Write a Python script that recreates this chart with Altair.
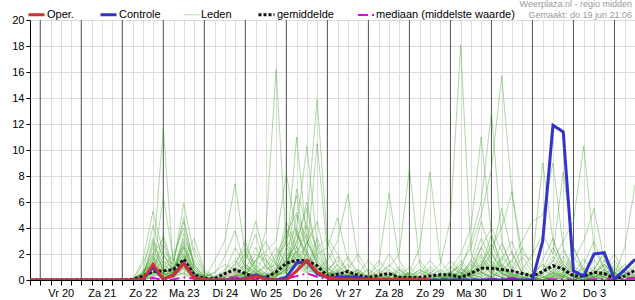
import altair as alt
import pandas as pd

# ---------------- data ----------------
# 6-hourly steps, step 0 = do 19 jun 18:00
stappen = list(range(60))
dagen = ["Vr 20", "Za 21", "Zo 22", "Ma 23", "Di 24", "Wo 25", "Do 26",
         "Vr 27", "Za 28", "Zo 29", "Ma 30", "Di 1", "Wo 2", "Do 3"]
dag_midden = [3, 7, 11, 15, 19, 23, 27, 31, 35, 39, 43, 47, 51, 55]
dag_grenzen = [1, 5, 9, 13, 17, 21, 25, 29, 33, 37, 41, 45, 49, 53, 57]
y_ticks = [0, 2, 4, 6, 8, 10, 12, 14, 16, 18, 20]
kop = ["Weerplaza.nl - regio midden", "Gemaakt: do 19 jun 21:06"]

oper = [0, 0, 0, 0, 0, 0, 0, 0, 0, 0,
        0, 0.05, 1.2, 0.05, 0.4, 1.25, 0.15, 0.05, 0, 0,
        0, 0.05, 0.3, 0.05, 0, 0, 0.7, 1.5, 0.6, 0.2,
        0.1, 0.05, 0.05, 0.05, 0.05, 0.05, 0.05, 0.05, 0.05, 0.05]

controle = [0, 0, 0, 0, 0, 0, 0, 0, 0, 0,
            0, 0.05, 1.0, 0.05, 0.4, 1.3, 0.2, 0.05, 0, 0,
            0, 0.1, 0.4, 0.1, 0, 0.2, 1.3, 1.4, 0.5, 0.2,
            0.2, 0.25, 0.2, 0.05, 0, 0, 0, 0, 0, 0,
            0, 0, 0, 0, 0, 0, 0, 0, 0, 0,
            3.0, 11.9, 11.4, 0.7, 0.3, 2.0, 2.1, 0.05, 0.8, 1.6]

gemiddelde = [0, 0, 0, 0, 0, 0, 0, 0, 0, 0,
              0.05, 0.3, 0.65, 0.7, 0.8, 1.6, 0.4, 0.1, 0.1, 0.5,
              0.8, 0.5, 0.2, 0.2, 0.6, 1.3, 1.5, 1.5, 1.1, 0.3,
              0.45, 0.65, 0.35, 0.2, 0.35, 0.5, 0.2, 0.2, 0.2, 0.3,
              0.4, 0.4, 0.2, 0.5, 0.9, 0.9, 0.8, 0.7, 0.5, 0.3,
              0.65, 1.1, 0.85, 0.3, 0.3, 0.6, 0.5, 0.1, 0.3, 0.75]

mediaan = [0, 0, 0, 0, 0, 0, 0, 0, 0, 0,
           0, 0, 0.15, 0, 0.05, 0.2, 0.1, 0, 0, 0.15,
           0.2, 0.15, 0.05, 0, 0.05, 0.1, 0.3, 0.5, 0.25, 0.05,
           0.05, 0.15, 0.05, 0, 0, 0.05, 0, 0, 0, 0,
           0, 0, 0, 0, 0.05, 0.1, 0.1, 0.15, 0.05, 0,
           0, 0.05, 0.05, 0, 0, 0.05, 0.1, 0, 0.1, 0.15]

lid01 = [0,0,0,0,0,0,0,0,0,0, 0,0.5,2.1,1.0,0.3,1.8,0.4,0,0.2,0.8, 1.5,0.6,0.2,0,0.4,1.2,3.5,2.0,0.8,0.3, 0.2,0.1,0,0,0.3,0.1,0,0,0.2,0, 0,0.4,1.2,0.5,0.8,2.2,0.9,0.4,0.1,0, 0.6,1.8,0.7,0.2,0,0.5,1.2,0.3,0,0.4]
lid02 = [0,0,0,0,0,0,0,0,0,0, 0,0.3,1.5,11.7,0.8,2.5,0.6,0.1,0,0, 0.3,1.0,0.5,0.2,0,0.6,1.8,4.2,2.5,0.6, 0.4,0.2,0,0,0,0,0.3,1.0,0.2,0, 0,0,0.3,0.8,2.5,1.2,0.5,0.2,0,0, 0,0.8,2.3,0.6,0.1,0,0.4,0.9,0.2,0]
lid03 = [0,0,0,0,0,0,0,0,0,0, 0,0,0.8,2.8,0.5,3.6,1.2,0.2,0,0.3, 0.6,2.2,1.0,3.8,16.2,2.5,1.2,0.8,0.5,0.2, 0,0.3,0.6,0.1,0,0.5,0.2,0,0,0, 0.5,1.5,0.6,0.2,0,0.4,1.6,3.0,0.8,0.2, 0,0,0.3,1.1,0.5,0.2,0.8,0.3,0,0.1]
lid04 = [0,0,0,0,0,0,0,0,0,0, 0,1.2,3.2,0.6,0.2,1.0,0.3,0,1.5,3.0, 7.4,2.0,0.8,0.4,0.2,0.9,2.2,1.5,0.6,0.3, 1.2,0.4,0,0,0,0.2,0.8,0.2,0,0, 0,0.6,0.2,1.4,4.5,2.0,0.7,0.3,0.5,0.2, 1.5,3.2,1.0,0.3,0,0.6,0.4,0,0,0]
lid05 = [0,0,0,0,0,0,0,0,0,0, 0,0,1.2,0.4,0.6,2.5,0.8,0.2,0,0, 0,0.5,2.0,1.5,0.8,2.0,11.0,3.0,1.2,0.5, 0.3,0.8,0.2,0,0,0,0,0.4,1.5,0.5, 0.2,0,0,0.6,1.8,0.5,0.2,0,0,0, 0,0,0.5,2.5,0.8,0.3,0,0,0.6,1.5]
lid06 = [0,0,0,0,0,0,0,0,0,0, 0,0.2,0.5,1.8,1.2,5.9,2.0,0.5,0.2,0, 0.4,1.2,0.6,0.3,1.5,3.2,4.0,10.3,2.8,0.9, 0.5,0.2,0.1,0,0.3,1.2,0.4,0,0,0, 0,0.3,0.9,0.4,0.2,0.8,2.8,1.0,0.3,0, 0.2,0.5,0.2,0,1.2,3.0,0.8,0.2,0,0]
lid07 = [0,0,0,0,0,0,0,0,0,0, 0,0.6,4.2,1.5,0.3,0.8,0.2,0,0,0.5, 1.2,3.0,0.8,0.2,0.6,1.8,2.5,4.5,13.9,3.0, 1.0,0.5,0.2,0,0,0,0.2,0.6,0.2,0, 0,0,0.5,1.2,0.6,0.2,0,0.5,1.8,0.6, 0.2,0,0,0.4,0.9,0.3,0,0.2,0.8,0.3]
lid08 = [0,0,0,0,0,0,0,0,0,0, 0,0,0.3,0.8,0.5,1.5,3.2,0.8,0.2,0, 0,0.4,1.5,2.2,3.0,8.2,3.5,2.0,10.5,2.2, 0.6,0.3,0.8,0.2,0,0,0,0,0.3,0.8, 0.3,0,0.2,0,0.5,1.5,0.6,0,0,0.4, 1.2,0.5,0,0,0.3,0.8,2.0,0.6,0,0]
lid09 = [0,0,0,0,0,0,0,0,0,0, 0,0.4,1.8,0.5,1.0,2.0,0.5,0.3,0.6,1.2, 0.8,0.3,0.2,0.6,1.8,2.8,1.5,0.6,0.8,1.5, 3.0,6.6,1.5,0.4,0.2,0,0,0.3,0,0, 0,0.2,0.6,0.2,0,0.3,1.0,2.2,0.5,0, 0,0.3,0.8,0.2,0,0,0.5,1.0,0.3,0]
lid10 = [0,0,0,0,0,0,0,0,0,0, 0,0,0.6,3.5,0.8,0.4,0.1,0,0,0, 0.2,0.8,2.5,1.0,0.5,1.0,1.8,0.9,2.0,2.5, 4.8,1.5,0.6,0.3,1.2,6.7,1.5,0.3,0,0, 0.2,0.6,0.3,0,0,0.2,0.8,0.3,0,0, 0.5,1.5,0.6,0,0,0.2,0.5,0.2,0.4,1.0]
lid11 = [0,0,0,0,0,0,0,0,0,0, 0,0.2,2.8,1.2,0.5,3.0,0.8,0.2,0,0, 0,0,0.3,1.2,2.5,1.2,0.6,3.0,1.5,0.4, 0.2,0.8,0.3,0,0.5,1.0,2.0,8.6,1.2,0.3, 0,0,0.4,1.5,0.6,0.2,0.5,0.2,0,0, 0,0.2,0.4,0,0,0.8,2.2,0.5,0,0.2]
lid12 = [0,0,0,0,0,0,0,0,0,0, 0,0.8,1.0,0.3,0.2,1.2,0.4,0,0.3,0.6, 2.5,1.0,0.2,0,0.3,0.8,2.0,1.2,0.5,0.2, 0,0,0.5,1.5,0.6,0.2,0,0.6,2.5,8.3, 1.5,0.4,0.2,0.5,1.0,3.5,1.2,0.4,0,0, 0.2,0.6,0.3,0,0.4,1.0,0.2,0,0,0]
lid13 = [0,0,0,0,0,0,0,0,0,0, 0,0,0.4,1.0,2.0,4.0,1.0,0.3,0,0, 0.3,0.6,0.3,0.2,0.8,2.2,1.0,0.5,0.3,0.2, 0,0.2,0,0,0.3,0.8,0.2,0,0,0.5, 1.2,4.6,18.1,2.0,0.8,1.2,0.5,0.2,0,0, 0,0.3,1.0,0.4,0,0.2,0.6,0.3,0,0]
lid14 = [0,0,0,0,0,0,0,0,0,0, 0,0.3,2.5,0.8,0.2,0.6,0.2,0,0,0, 0,0.3,1.5,0.8,1.2,4.5,2.5,1.0,0.6,0.3, 0.2,0.5,0.2,0,0,0.3,1.0,0.4,0,0, 0,0.6,1.2,2.5,5.0,8.5,15.7,6.7,1.2,0.3, 0,0.5,1.5,0.6,0.2,0,0,0.3,0.6,0.2]
lid15 = [0,0,0,0,0,0,0,0,0,0, 0,0,0.2,0.6,0.8,3.2,1.5,0.4,0.2,0, 0.2,1.5,3.5,1.0,0.4,0.6,5.0,2.2,1.0,0.5, 0.3,0,0,0.2,0.8,0.3,0,0,0.2,0.6, 0.2,0,0.8,3.0,6.0,12.9,3.0,0.8,0.3,0, 0.8,2.5,0.8,0.2,0,0,0.3,1.2,0.5,0]
lid16 = [0,0,0,0,0,0,0,0,0,0, 0,0.5,1.6,0.4,0.6,2.2,0.6,0,0,0.2, 0.6,0.3,0,0.4,1.0,3.0,6.5,2.0,0.8,0.6, 1.8,0.6,0.2,0,0,0,0.4,0.2,0,0, 0,0.8,2.0,4.0,11.0,3.5,1.0,0.5,0.2,0, 0,0,0.2,0.5,1.6,0.6,0.2,0,0,0.3]
lid17 = [0,0,0,0,0,0,0,0,0,0, 0,0.2,0.8,2.2,1.5,0.8,0.2,0,0,0, 0.2,0.5,1.0,0.5,0.3,1.2,3.0,5.5,1.8,0.6, 0.4,0.2,0,0,0.2,0.6,0.2,0,0.3,1.0, 0.5,0.2,0,0.5,1.2,2.5,4.0,6.8,2.0,1.5, 9.0,3.0,1.2,0.5,0.2,0.6,1.2,0.4,0,0]
lid18 = [0,0,0,0,0,0,0,0,0,0, 0,0.6,1.4,0.5,0.2,1.5,0.5,0.1,0,0.4, 1.0,2.0,0.6,0.2,0,0.4,1.5,0.8,3.2,1.2, 0.6,1.2,0.4,0,0,0.2,0.8,0.3,0,0, 0,0,0.3,0.8,0.4,1.0,0.6,1.5,3.0,4.5, 5.0,9.0,2.5,0.8,0.3,0.2,0.6,1.5,0.4,0]
lid19 = [0,0,0,0,0,0,0,0,0,0, 0,0,0.5,1.2,0.4,1.8,0.6,0.2,0,0, 0,0.2,0.8,0.3,0.6,2.5,4.0,1.5,0.5,0.2, 0,0,0.3,0.8,0.3,0,0,0,0.5,1.5, 0.6,0.2,0,0.4,1.5,0.6,0.2,0,0.8,2.0, 3.5,2.0,8.3,2.5,0.6,0.2,0,0.3,0.8,0.4]
lid20 = [0,0,0,0,0,0,0,0,0,0, 0,0.3,3.0,2.0,0.6,1.2,0.3,0,0,0, 0,0.6,0.3,0,0.2,1.0,2.2,3.5,1.2,0.4, 0.8,0.3,0,0,0,0.3,0.6,0.2,0,0, 0,0.3,0.6,0.2,0.8,2.0,0.8,0.4,0.2,0, 0.5,1.5,3.0,4.5,10.3,2.5,0.8,0.2,0,0.5]
lid21 = [0,0,0,0,0,0,0,0,0,0, 0,0.1,0.6,0.2,1.0,2.8,0.8,0.2,0,0, 0.3,1.2,0.5,0.3,0.6,1.5,0.8,2.0,0.6,0.3, 0.2,0.4,0.8,0.2,0,0,0.2,0.5,0.2,0, 0.3,1.0,0.5,0.2,0,0.5,1.8,0.8,0.2,0.5, 1.2,0.6,0.2,1.5,3.0,5.5,1.5,0.4,2.5,7.3]
lid22 = [0,0,0,0,0,0,0,0,0,0, 0,1.5,5.3,2.0,0.5,1.0,0.2,0,0,0.3, 0.8,0.4,0.2,0,0.3,0.8,1.2,0.6,0.3,0.2, 0.6,1.8,0.5,0.2,0,0,0,0.3,0.8,0.3, 0,0.2,0.4,1.0,3.2,1.5,0.4,0.2,0,0, 0,0.4,1.2,0.5,0,0.2,0.8,2.0,0.6,0.2]
lid23 = [0,0,0,0,0,0,0,0,0,0, 0,0.4,0.8,6.4,1.5,4.5,1.2,0.3,0,0, 0,0.2,0.8,2.0,1.2,0.6,2.5,1.8,0.9,0.4, 0.2,0,0,0.4,1.5,0.6,0.2,0,0,0.3, 0.8,0.3,0,0.2,0.6,1.8,5.5,2.0,0.6,0.2, 0,0,0.3,0.8,0.4,0,0,0.5,1.2,0.6]
lid24 = [0,0,0,0,0,0,0,0,0,0, 0,0.2,1.2,0.5,0.2,2.0,0.5,0.2,0.5,1.8, 3.8,1.0,0.3,0.2,0.5,1.5,2.8,6.0,2.0,0.8, 0.4,0.2,0,0,0,0.4,0.2,0,0,0, 0,0.5,1.5,0.6,2.5,4.0,2.2,0.6,0,0, 0,0.2,0.6,1.8,0.6,0.2,0.5,0.2,0,0.8]
lid25 = [0,0,0,0,0,0,0,0,0,0, 0,0,0.3,0.8,0.3,0.5,0.2,0,0,0, 0.2,0.5,1.5,3.0,1.2,0.8,7.0,4.0,1.5,0.6, 0.3,0.8,2.0,0.6,0.2,0,0,0.2,0.6,0.2, 0,0,0.2,0.6,1.2,0.5,0.2,0.8,2.5,0.9, 0.3,0,0,0.2,0.5,1.5,0.6,0,0,0]
lid26 = [0,0,0,0,0,0,0,0,0,0, 0,0.6,2.0,3.2,0.6,1.5,2.5,0.6,0.2,0, 0,0.3,0.6,1.0,2.0,3.5,5.2,3.0,1.2,0.8, 1.5,0.6,0.2,0,0.3,0.2,0,0,0,0, 0,0.4,0.2,0,0.3,1.2,0.6,0.2,0,0, 0.4,1.0,0.4,0,0,0.3,1.2,0.5,0.2,0]
lid27 = [0,0,0,0,0,0,0,0,0,0, 0,0.2,0.6,1.5,0.8,2.6,0.4,0,0.2,0.5, 1.2,2.5,1.2,0.4,0.3,0.6,1.5,2.8,4.5,1.0, 0.3,0,0,0.2,0.6,2.0,0.8,0.2,0,0, 0.2,0.6,1.0,0.3,0.6,0.2,0.8,1.5,0.6,0.2, 0,0.6,1.8,0.6,0.2,0,0.2,0.6,0.3,0]
lid28 = [0,0,0,0,0,0,0,0,0,0, 0,0,1.0,0.4,0.3,0.9,0.3,0,0,0, 0.5,1.8,4.5,1.5,0.4,0.8,3.8,1.2,0.6,0.4, 0.6,0.3,0.2,0,0,0,0,0.2,0.8,0.4, 0.2,0,0,0.3,1.0,2.8,1.0,0.3,0,0.2, 0.8,0.3,0,0,0.2,0.5,0.2,0,0.4,1.2]
lid29 = [0,0,0,0,0,0,0,0,0,0, 0,0.4,0.9,0.2,0.5,1.6,0.6,0.2,0,0.2, 0.4,0.2,0,0.3,0.8,1.6,2.2,0.8,2.5,3.2, 2.0,0.6,0.2,0,0,0,0.3,0.1,0,0, 0,0.2,0.8,0.4,0.2,0.6,1.2,0.5,0.2,0, 0.2,0.8,0.3,0,0,0.6,0.2,0,0,0]
lid30 = [0,0,0,0,0,0,0,0,0,0, 0,0.2,1.8,0.8,1.5,4.8,1.0,0.3,0,0, 0.3,0.6,0.3,0.2,0.6,4.0,2.0,1.0,0.4,0.2, 0,0.2,0.5,0.2,0,0,0,0,0,0, 0,0,0.2,0.8,2.0,0.8,0.3,0,0,0, 0,0.2,0.6,0.3,0,0.4,1.5,0.6,0,0]

leden = [lid01, lid02, lid03, lid04, lid05, lid06, lid07, lid08, lid09, lid10,
         lid11, lid12, lid13, lid14, lid15, lid16, lid17, lid18, lid19, lid20,
         lid21, lid22, lid23, lid24, lid25, lid26, lid27, lid28, lid29, lid30]

SERIES = ["Oper.", "Controle", "Leden", "gemiddelde", "mediaan (middelste waarde)"]
KLEUREN = ["#d42f2f", "#3333cc", "#3d9d27", "#111111", "#e000e0"]
STREEPJES = [[1, 0], [1, 0], [1, 0], [3, 2], [10, 4, 2, 4]]
DIKTES = [3, 3, 1, 3, 2]
DEKKING = [1, 1, 0.42, 1, 1]

FONT = "Liberation Sans"


def lang(values, serie, lid=""):
    return pd.DataFrame({
        "i": [s for s, _ in zip(stappen, values)],
        "waarde": [v for _, v in zip(stappen, values)],
        "serie": serie,
        "lid": lid,
    })


df_leden = pd.concat([lang(v, "Leden", f"lid{k + 1:02d}") for k, v in enumerate(leden)],
                     ignore_index=True)
df_oper = lang(oper, "Oper.")
df_ctrl = lang(controle, "Controle")
df_gem = lang(gemiddelde, "gemiddelde")
df_med = lang(mediaan, "mediaan (middelste waarde)")
df_grens = pd.DataFrame({"i": dag_grenzen})
df_kop1 = pd.DataFrame({"t": [kop[0]]})
df_kop2 = pd.DataFrame({"t": [kop[1]]})

# ---------------- encodings ----------------
label_expr = (
    "indexof(" + str(dag_midden) + ", datum.value) >= 0 ? "
    + "[" + ",".join(f"'{d}'" for d in dagen) + "][indexof(" + str(dag_midden) + ", datum.value)] : ''"
)

xscale = alt.Scale(domain=[0, 59], nice=False, zero=False)
yscale = alt.Scale(domain=[0, 20], nice=False)

xaxis = alt.Axis(values=stappen, labelExpr=label_expr, grid=True, gridColor="#dcdcdc",
                 gridWidth=1, domainColor="black", tickColor="black", tickSize=5,
                 labelFont=FONT, labelFontSize=11, labelColor="black", labelPadding=2,
                 labelFlush=False, labelOverlap=False, labelAngle=0, title=None)
yaxis = alt.Axis(values=y_ticks, grid=True, gridColor="#dcdcdc", gridWidth=1,
                 domainColor="black", tickColor="black", tickSize=4,
                 labelFont=FONT, labelFontSize=11, labelColor="black", labelPadding=2,
                 title=None)

legend = alt.Legend(orient="none", legendX=-3, legendY=-15, direction="horizontal",
                    title=None, symbolType="stroke", symbolSize=256,
                    labelFont=FONT, labelFontSize=11, labelColor="black",
                    labelOffset=1, columnPadding=20, padding=0)

X = alt.X("i:Q", scale=xscale, axis=xaxis)
Y = alt.Y("waarde:Q", scale=yscale, axis=yaxis)


def serie_enc():
    return dict(
        color=alt.Color("serie:N", scale=alt.Scale(domain=SERIES, range=KLEUREN), legend=legend),
        strokeDash=alt.StrokeDash("serie:N", scale=alt.Scale(domain=SERIES, range=STREEPJES), legend=legend),
        strokeWidth=alt.StrokeWidth("serie:N", scale=alt.Scale(type="ordinal", domain=SERIES, range=DIKTES), legend=legend),
        opacity=alt.Opacity("serie:N", scale=alt.Scale(type="ordinal", domain=SERIES, range=DEKKING), legend=legend),
    )


grenzen = alt.Chart(df_grens).mark_rule(color="#555555", strokeWidth=1).encode(x=X)

leden_lijnen = alt.Chart(df_leden).mark_line(clip=True).encode(
    x=X, y=Y, detail="lid:N", **serie_enc())
gem_lijn = alt.Chart(df_gem).mark_line(clip=True).encode(x=X, y=Y, **serie_enc())
med_lijn = alt.Chart(df_med).mark_line(clip=True).encode(x=X, y=Y, **serie_enc())
ctrl_lijn = alt.Chart(df_ctrl).mark_line(clip=True).encode(x=X, y=Y, **serie_enc())
oper_lijn = alt.Chart(df_oper).mark_line(clip=True).encode(x=X, y=Y, **serie_enc())

kop1 = alt.Chart(df_kop1).mark_text(
    align="right", baseline="alphabetic", font=FONT, fontSize=9, color="#9a9a9a"
).encode(text="t:N", x=alt.value(602), y=alt.value(-13))
kop2 = alt.Chart(df_kop2).mark_text(
    align="right", baseline="alphabetic", font=FONT, fontSize=9, color="#9a9a9a"
).encode(text="t:N", x=alt.value(602), y=alt.value(-2))

chart = alt.layer(
    grenzen, leden_lijnen, gem_lijn, med_lijn, ctrl_lijn, oper_lijn, kop1, kop2
).properties(
    width=605, height=260,
    autosize=alt.AutoSizeParams(type="none"),
    padding={"left": 30, "top": 20, "right": 0, "bottom": 20},
).configure_view(
    stroke="black", strokeWidth=1
).configure(
    font=FONT, background="white"
)

chart.save("out.html", embed_options={"renderer": "svg", "actions": False})
